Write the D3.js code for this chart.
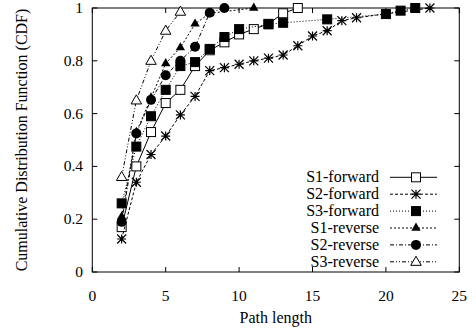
<!DOCTYPE html>
<html lang="en">
<head>
<meta charset="UTF-8">
<title>Path length CDF</title>
<script src="https://d3js.org/d3.v7.min.js"></script>
<style>
  body { margin: 0; background: #fff; }
  svg text { font-family: "Liberation Serif", "DejaVu Serif", serif; fill: #000; }
  .tick-label { font-size: 15.5px; }
  .title { font-size: 16px; }
  .legend text { font-size: 16px; }
</style>
</head>
<body>
<script>
// series names
const seriesNames = ["S1-forward", "S2-forward", "S3-forward", "S1-reverse", "S2-reverse", "S3-reverse"];

// path lengths (x) and CDF values (y)
const s1fX = [2, 3, 4, 5, 6, 7, 8, 9, 10, 11, 12, 13, 14];
const s1fY = [0.17, 0.40, 0.53, 0.64, 0.69, 0.78, 0.84, 0.87, 0.90, 0.92, 0.94, 0.98, 1.0];

const s2fX = [2, 3, 4, 5, 6, 7, 8, 9, 10, 11, 12, 13, 14, 15, 16, 17, 18, 23];
const s2fY = [0.125, 0.34, 0.445, 0.515, 0.595, 0.665, 0.763, 0.774, 0.787, 0.80, 0.81, 0.822, 0.857, 0.894, 0.914, 0.952, 0.963, 1.0];

const s3fX = [2, 3, 4, 5, 6, 7, 8, 9, 10, 12, 13, 16, 20, 21, 22];
const s3fY = [0.26, 0.475, 0.59, 0.69, 0.78, 0.795, 0.845, 0.89, 0.92, 0.938, 0.944, 0.957, 0.977, 0.99, 1.0];

const s1rX = [2, 3, 4, 5, 6, 7, 8, 11];
const s1rY = [0.21, 0.53, 0.66, 0.79, 0.85, 0.94, 0.98, 1.0];

const s2rX = [2, 3, 4, 5, 6, 7, 8, 9];
const s2rY = [0.19, 0.525, 0.652, 0.745, 0.80, 0.853, 0.982, 1.0];

const s3rX = [2, 3, 4, 5, 6];
const s3rY = [0.36, 0.65, 0.80, 0.914, 0.986];

const xTicks = [0, 5, 10, 15, 20, 25];
const yTicks = [0, 0.2, 0.4, 0.6, 0.8, 1];

const seriesX = [s1fX, s2fX, s3fX, s1rX, s2rX, s3rX];
const seriesY = [s1fY, s2fY, s3fY, s1rY, s2rY, s3rY];

// styles per series
const dashes = [null, "3,2", "1,2", "2,2", "4,2,1,2", "4,2,1,2,1,2"];
const markers = ["square", "star", "fsquare", "ftriangle", "fcircle", "triangle"];

const W = 476, H = 329;
const pLeft = 92.3, pRight = 459.3, pTop = 8, pBottom = 272;

const svg = d3.select("body").append("svg")
    .attr("width", W)
    .attr("height", H)
    .attr("font-family", "'Liberation Serif', 'DejaVu Serif', serif");

const x = d3.scaleLinear().domain([0, 25]).range([pLeft, pRight]);
const y = d3.scaleLinear().domain([0, 1]).range([pBottom, pTop]);

// frame
svg.append("rect")
    .attr("x", pLeft).attr("y", pTop)
    .attr("width", pRight - pLeft).attr("height", pBottom - pTop)
    .attr("fill", "none").attr("stroke", "#000").attr("stroke-width", 1);

// inward ticks on all sides
const tl = 5;
xTicks.forEach(t => {
  svg.append("line").attr("x1", x(t)).attr("x2", x(t)).attr("y1", pBottom).attr("y2", pBottom - tl).attr("stroke", "#000");
  svg.append("line").attr("x1", x(t)).attr("x2", x(t)).attr("y1", pTop).attr("y2", pTop + tl).attr("stroke", "#000");
  svg.append("text").attr("class", "tick-label")
    .attr("x", x(t)).attr("y", 301).attr("text-anchor", "middle").text(t);
});
yTicks.forEach(t => {
  svg.append("line").attr("x1", pLeft).attr("x2", pLeft + tl).attr("y1", y(t)).attr("y2", y(t)).attr("stroke", "#000");
  svg.append("line").attr("x1", pRight).attr("x2", pRight - tl).attr("y1", y(t)).attr("y2", y(t)).attr("stroke", "#000");
  svg.append("text").attr("class", "tick-label")
    .attr("x", 83).attr("y", y(t) + 5).attr("text-anchor", "end").text(t);
});

// axis titles
svg.append("text").attr("class", "title")
    .attr("x", (pLeft + pRight) / 2).attr("y", 323).attr("text-anchor", "middle")
    .text("Path length");
svg.append("text").attr("class", "title")
    .attr("transform", "translate(27," + ((pTop + pBottom) / 2) + ") rotate(-90)")
    .attr("text-anchor", "middle")
    .text("Cumulative Distribution Function (CDF)");

// marker drawing
function drawMarker(g, kind, cx, cy) {
  if (kind === "square" || kind === "fsquare") {
    g.append("rect").attr("x", cx - 4.5).attr("y", cy - 4.5).attr("width", 9).attr("height", 9)
      .attr("fill", kind === "fsquare" ? "#000" : "#fff").attr("stroke", "#000").attr("stroke-width", 1);
  } else if (kind === "star") {
    const r = 4.5;
    const p = `M${cx - r},${cy}L${cx + r},${cy}M${cx},${cy - r}L${cx},${cy + r}` +
              `M${cx - r},${cy - r}L${cx + r},${cy + r}M${cx - r},${cy + r}L${cx + r},${cy - r}`;
    g.append("path").attr("d", p).attr("stroke", "#000").attr("stroke-width", 1.2).attr("fill", "none");
  } else if (kind === "ftriangle") {
    g.append("path").attr("d", d3.symbol(d3.symbolTriangle, 38)())
      .attr("transform", `translate(${cx},${cy})`).attr("fill", "#000");
  } else if (kind === "fcircle") {
    g.append("circle").attr("cx", cx).attr("cy", cy).attr("r", 5).attr("fill", "#000");
  } else if (kind === "triangle") {
    g.append("path").attr("d", d3.symbol(d3.symbolTriangle, 48)())
      .attr("transform", `translate(${cx},${cy + 0.5})`).attr("fill", "#fff").attr("stroke", "#000").attr("stroke-width", 1);
  }
}

const line = d3.line().x(d => x(d[0])).y(d => y(d[1]));

seriesNames.forEach((name, i) => {
  const pts = seriesX[i].map((v, j) => [v, seriesY[i][j]]);
  const g = svg.append("g");
  g.append("path").datum(pts)
    .attr("d", line)
    .attr("fill", "none").attr("stroke", "#000").attr("stroke-width", 1)
    .attr("stroke-dasharray", dashes[i]);
  pts.forEach(p => drawMarker(g, markers[i], x(p[0]), y(p[1])));
});

// legend
const legend = svg.append("g").attr("class", "legend");
seriesNames.forEach((name, i) => {
  const ly = 177.3 + i * 16.9;
  legend.append("text").attr("x", 379).attr("y", ly + 5).attr("text-anchor", "end").text(name);
  legend.append("line").attr("x1", 390).attr("x2", 437).attr("y1", ly).attr("y2", ly)
    .attr("stroke", "#000").attr("stroke-width", 1).attr("stroke-dasharray", dashes[i]);
  drawMarker(legend, markers[i], 416, ly);
});
</script>
</body>
</html>
